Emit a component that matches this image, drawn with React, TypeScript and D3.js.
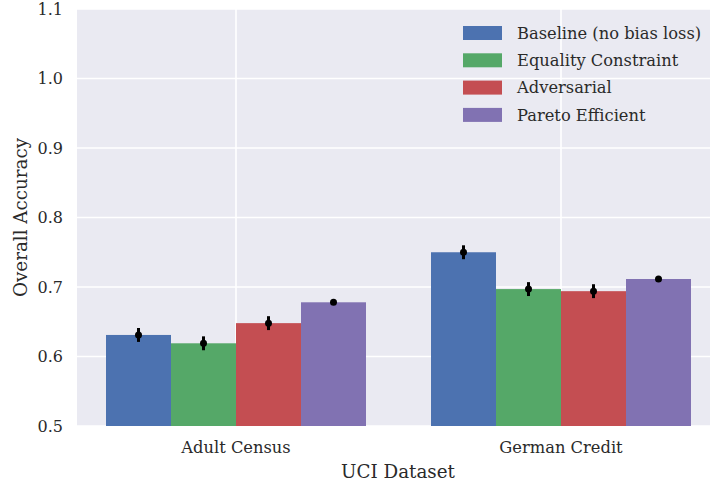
import React from "react";
import * as d3 from "d3";

const categories = ["Adult Census", "German Credit"];
const seriesNames = ["Baseline (no bias loss)", "Equality Constraint", "Adversarial", "Pareto Efficient"];
const colors = ["#4C72B0", "#55A868", "#C44E52", "#8172B2"];
const baseline = [0.631, 0.750];
const equality = [0.619, 0.697];
const adversarial = [0.648, 0.694];
const pareto = [0.678, 0.7115];
const baselineErr = [0.010, 0.010];
const equalityErr = [0.010, 0.010];
const adversarialErr = [0.010, 0.010];
const paretoErr = [0.002, 0.002];
const yTicks = [0.5, 0.6, 0.7, 0.8, 0.9, 1.0, 1.1];

const values = [baseline, equality, adversarial, pareto];
const errors = [baselineErr, equalityErr, adversarialErr, paretoErr];

const W = 710, H = 484;
const left = 77, top = 9, bottom = 426;
const font = "'DejaVu Serif', serif";

export default function App() {
  const x = d3.scaleLinear().domain([-0.5, 1.5]).range([73.5, 723.5]);
  const y = d3.scaleLinear().domain([0.5, 1.1]).range([bottom, top]);
  const barW = (x(1) - x(0)) * 0.8 / 4;
  return (
    <svg width={W} height={H} style={{ position: "absolute", left: 0, top: 0 }} fontFamily={font}>
      <rect x={left} y={top} width={W - left} height={bottom - top} fill="#EAEAF2" />
      {yTicks.map((t) => (
        <line key={t} x1={left} x2={W} y1={y(t)} y2={y(t)} stroke="#fff" strokeWidth={1.6} />
      ))}
      {categories.map((c, i) => (
        <line key={c} x1={x(i)} x2={x(i)} y1={top} y2={bottom} stroke="#fff" strokeWidth={1.6} />
      ))}
      {values.map((vals, s) =>
        vals.map((v, i) => {
          const x0 = x(i) - 2 * barW + s * barW;
          return (
            <rect key={`${s}-${i}`} x={x0} y={y(v)} width={barW} height={bottom - y(v)} fill={colors[s]} />
          );
        })
      )}
      {values.map((vals, s) =>
        vals.map((v, i) => {
          const cx = x(i) - 2 * barW + (s + 0.5) * barW;
          const e = errors[s][i];
          return (
            <g key={`e${s}-${i}`}>
              <line x1={cx} x2={cx} y1={y(v - e)} y2={y(v + e)} stroke="#000" strokeWidth={3} />
              <circle cx={cx} cy={y(v)} r={3.5} fill="#000" />
            </g>
          );
        })
      )}
      {yTicks.map((t) => (
        <text key={t} x={63} y={y(t)} dy="0.35em" textAnchor="end" fontSize={16} fill="#2a2a2a">
          {t.toFixed(1)}
        </text>
      ))}
      {categories.map((c, i) => (
        <text key={c} x={x(i)} y={447} dy="0.35em" textAnchor="middle" fontSize={16.3} fill="#2a2a2a">
          {c}
        </text>
      ))}
      <text x={398} y={472} dy="0.35em" textAnchor="middle" fontSize={18.3} fill="#2a2a2a">UCI Dataset</text>
      <text transform={`translate(21,${(top + bottom) / 2}) rotate(-90)`} dy="0.35em" textAnchor="middle" fontSize={18.3} fill="#2a2a2a">
        Overall Accuracy
      </text>
      {seriesNames.map((n, s) => {
        const cy = 33 + s * 27.3;
        return (
          <g key={n}>
            <rect x={463} y={cy - 7} width={39} height={14} fill={colors[s]} />
            <text x={517} y={cy} dy="0.35em" fontSize={16.3} fill="#2a2a2a">{n}</text>
          </g>
        );
      })}
    </svg>
  );
}
